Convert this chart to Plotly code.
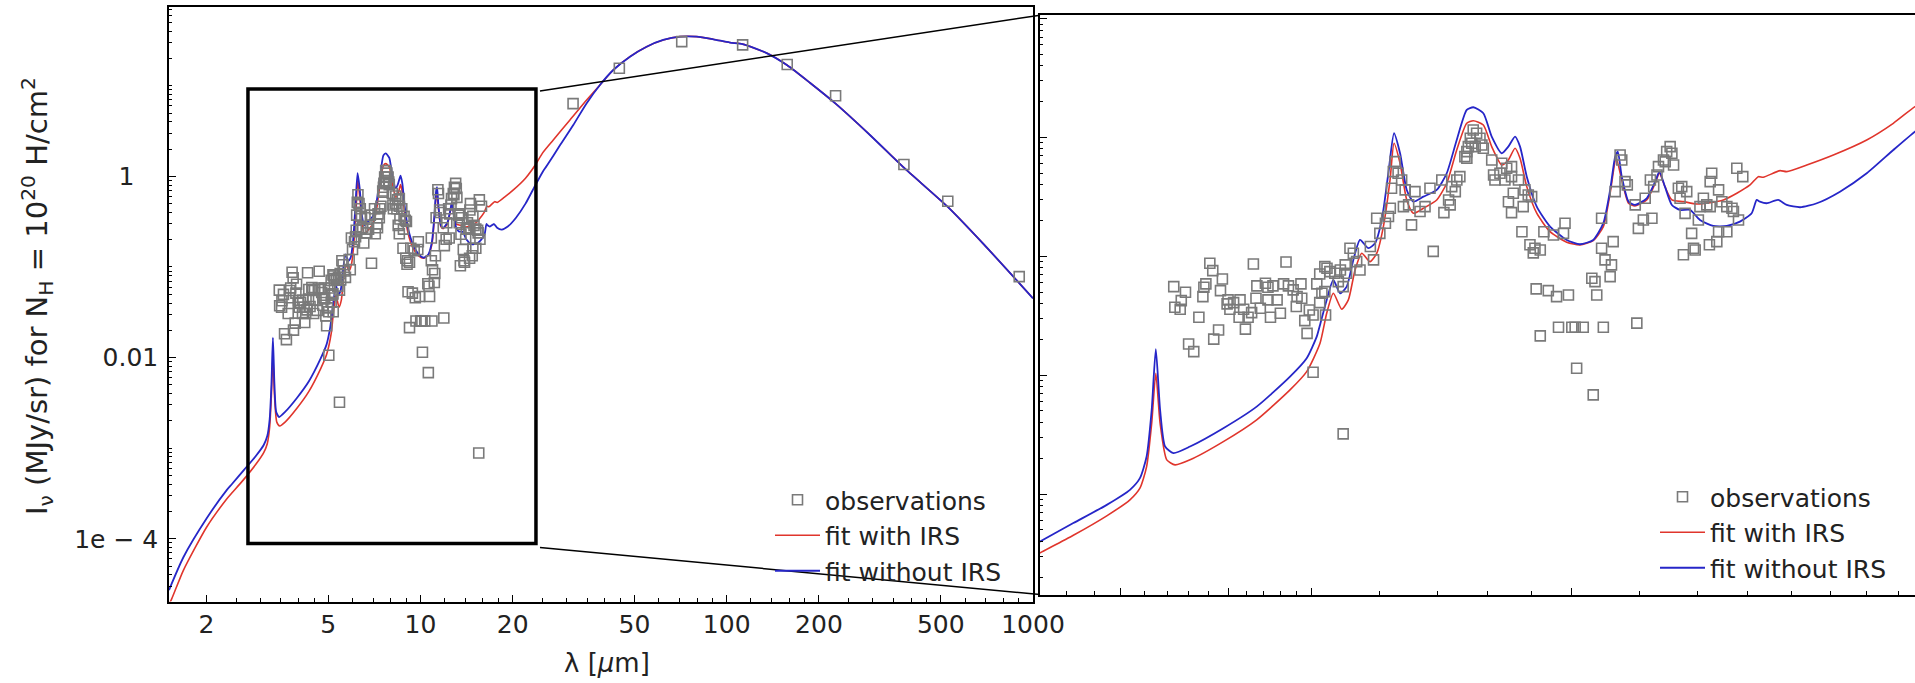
import numpy as np
import plotly.graph_objects as go

# ---------------- data ----------------
# observations, wavelength [um] and intensity
obs_x = [3.81, 3.84, 4.28, 4.67, 3.94, 3.46, 3.57, 3.75, 3.77, 3.74, 3.53, 3.47, 3.52, 3.70, 3.92,
         4.00, 4.06, 3.99, 4.13, 4.02, 4.12, 4.17, 4.22, 4.26, 4.32, 4.42, 4.45, 4.51, 4.64, 4.70,
         4.76, 4.86, 4.81, 4.87, 4.31, 4.36, 4.45, 4.48, 4.56, 4.60, 4.80, 4.97, 5.02, 4.91, 4.94,
         3.90, 3.85, 4.19, 3.60, 3.65, 5.07, 5.11, 5.21, 5.02, 5.14, 5.11, 5.19, 5.44, 5.18, 5.25,
         5.32, 5.40, 5.47, 5.18, 5.37, 5.44, 5.49, 5.54, 5.59, 5.64, 5.69, 5.85, 5.90, 5.95, 6.00,
         6.09, 6.14, 6.17, 6.19, 6.22, 6.25, 6.30, 6.36, 6.42, 6.39, 6.48, 6.53, 6.59, 6.68, 6.77,
         6.86, 6.92, 7.08, 7.12, 7.21, 7.24, 7.27, 7.34, 7.37, 7.43, 7.53, 7.60, 7.64, 7.70, 7.77,
         7.84, 7.67, 7.74, 7.88, 7.91, 7.57, 7.57, 8.09, 8.13, 8.16, 8.27, 8.31, 8.38, 8.42, 8.53,
         8.53, 8.57, 8.46, 8.53, 8.69, 8.80, 8.84, 8.92, 9.00, 8.77, 8.96, 9.08, 9.21, 9.04, 9.30,
         9.54, 9.80, 9.84, 9.11, 9.41, 9.62, 9.93, 9.21, 9.67, 10.02, 10.11, 10.33, 10.90, 10.15, 10.57,
         10.66, 10.71, 10.85, 10.85, 10.95, 11.19, 11.14, 11.10, 11.25, 10.61, 11.92, 11.40, 11.45, 11.55, 11.62,
         11.97, 12.13, 12.41, 11.87, 12.19, 12.36, 12.47, 12.58, 12.63, 12.80, 12.91, 13.03, 13.09, 13.15, 12.86,
         13.32, 13.44, 13.62, 13.56, 13.38, 13.80, 13.87, 13.93, 13.50, 14.11, 14.05, 14.24, 14.37, 14.50, 14.56,
         14.50, 14.83, 14.96, 15.16, 15.37, 15.43, 15.57, 15.82, 15.64, 14.83, 15.16, 14.76, 14.47, 15.5,
         31.5, 44.6, 71.3, 112.7, 157.6, 226.7, 378.9, 526.9, 901.6]
obs_y = [0.0875, 0.0758, 0.0863, 0.0897, 0.0645, 0.0556, 0.0499, 0.0550, 0.0586, 0.0458, 0.0424, 0.0373, 0.0359, 0.0307, 0.0515,
         0.0430, 0.0408, 0.0398, 0.0430, 0.0359, 0.0307, 0.0359, 0.0307, 0.0336, 0.0564, 0.0594, 0.0550, 0.0564, 0.0586, 0.0564,
         0.0522, 0.0586, 0.0458, 0.0444, 0.0444, 0.0366, 0.0430, 0.0307, 0.0430, 0.0332, 0.0378, 0.0354, 0.0321, 0.0288, 0.0225,
         0.0240, 0.0201, 0.0244, 0.0183, 0.0158, 0.0586, 0.0711, 0.0794, 0.0106, 0.0489, 0.0408, 0.0321, 0.00321, 0.0819, 0.0743,
         0.0721, 0.0768, 0.0847, 0.0505, 0.0613, 0.0556, 0.0721, 0.117, 0.106, 0.0902, 0.0768, 0.121, 0.0933, 0.209, 0.156,
         0.190, 0.216, 0.254, 0.374, 0.516, 0.626, 0.500, 0.439, 0.362, 0.262, 0.271, 0.184, 0.350, 0.238, 0.262,
         0.374, 0.110, 0.439, 0.233, 0.298, 0.271, 0.386, 0.350, 0.439, 0.468, 0.690, 0.837, 0.985, 1.156, 1.085,
         0.985, 0.894, 0.837, 0.865, 0.811, 0.760, 0.668, 0.647, 0.484, 0.439, 0.500, 0.607, 0.439, 0.551, 0.468,
         0.568, 0.339, 0.288, 0.233, 0.439, 0.262, 0.362, 0.328, 0.318, 0.161, 0.125, 0.117, 0.113, 0.107, 0.161,
         0.151, 0.156, 0.190, 0.0532, 0.0515, 0.0458, 0.0473, 0.0214, 0.0253, 0.0253, 0.0253, 0.0253, 0.0253, 0.01145, 0.0654,
         0.0613, 0.0473, 0.209, 0.117, 0.0933, 0.133, 0.0847, 0.0675, 0.350, 0.00683, 0.0274, 0.713, 0.647, 0.425, 0.399,
         0.172, 0.202, 0.209, 0.271, 0.308, 0.439, 0.386, 0.484, 0.568, 0.647, 0.760, 0.837, 0.736, 0.587, 0.626,
         0.374, 0.386, 0.350, 0.230, 0.308, 0.156, 0.117, 0.113, 0.103, 0.262, 0.202, 0.308, 0.271, 0.262, 0.500,
         0.425, 0.362, 0.288, 0.262, 0.254, 0.238, 0.551, 0.468, 0.202, 0.161, 0.161, 0.133, 0.125, 0.000885,
         6.35, 15.6, 30.7, 28.3, 17.2, 7.76, 1.35, 0.532, 0.0783]

# fit with IRS (red)
irs_x = [1.51, 1.541, 1.681, 2.005, 2.33, 2.421, 2.646, 2.893, 3.078, 3.161, 3.218, 3.262, 3.298, 3.336, 3.396,
         3.472, 3.614, 3.950, 4.318, 4.720, 4.935, 5.114, 5.206, 5.299, 5.420, 5.516, 5.616, 5.717, 5.846, 5.951,
         6.057, 6.166, 6.232, 6.333, 6.447, 6.562, 6.740, 6.985, 7.174, 7.368, 7.568, 7.702, 7.911, 8.090, 8.309,
         8.457, 8.610, 8.726, 8.884, 9.124, 9.454, 9.884, 10.24, 10.61, 10.90, 11.10, 11.28, 11.45, 11.66, 11.86,
         12.24, 12.52, 12.66, 12.85, 13.09, 13.50, 13.99, 14.50, 15.02, 15.57, 16.13, 16.49, 16.71, 17.47, 17.79,
         18.77, 20.15, 22.03, 23.65, 25.06, 27.14, 30.77, 34.88, 38.55, 42.61, 48.31, 54.76, 62.03, 70.34, 79.74,
         90.33, 102.4, 112.7, 135.0, 157.6, 186.9, 226.7, 293.5, 378.9, 526.9, 688.6, 901.6, 1000.0]
irs_y = [1.9e-5, 2.17e-5, 4.46e-5, 1.35e-4, 2.75e-4, 3.2e-4, 4.5e-4, 6.56e-4, 8.94e-4, 1.121e-3, 1.703e-3, 3.95e-3, 0.01039, 3.95e-3, 1.94e-3,
         1.76e-3, 1.94e-3, 2.76e-3, 4.21e-3, 7.52e-3, 0.01072, 0.01858, 0.0332, 0.0489, 0.0359, 0.043, 0.0768, 0.1062, 0.0902, 0.1062,
         0.1778, 0.439, 0.894, 0.607, 0.298, 0.2304, 0.2538, 0.298, 0.412, 0.785, 1.316, 1.384, 1.274, 0.837, 0.587,
         0.647, 0.811, 0.668, 0.3857, 0.2304, 0.1613, 0.1314, 0.1247, 0.1355, 0.1778, 0.3394, 0.668, 0.439, 0.2796, 0.2653,
         0.298, 0.412, 0.5, 0.3857, 0.298, 0.2884, 0.2759, 0.2829, 0.298, 0.3394, 0.3986, 0.468, 0.4626, 0.5258, 0.5158,
         0.587, 0.7125, 0.953, 1.316, 1.816, 2.52, 4.19, 6.97, 10.2, 14.94, 20.95, 27.0, 32.03, 34.83, 34.83,
         32.6, 30.0, 28.8, 22.96, 16.84, 10.8, 6.35, 2.864, 1.247, 0.4606, 0.18, 0.0664, 0.0451]

# fit without IRS (blue)
noirs_x = [1.51, 1.681, 2.005, 2.33, 2.421, 2.646, 2.893, 3.078, 3.161, 3.218, 3.262, 3.298, 3.336, 3.381, 3.457,
           3.614, 3.950, 4.318, 4.720, 4.935, 5.069, 5.114, 5.206, 5.299, 5.395, 5.492, 5.590, 5.691, 5.819, 5.924,
           6.031, 6.138, 6.232, 6.333, 6.447, 6.562, 6.740, 6.985, 7.174, 7.368, 7.568, 7.702, 7.911, 8.090, 8.309,
           8.457, 8.610, 8.726, 8.884, 9.124, 9.454, 9.884, 10.24, 10.61, 10.90, 11.10, 11.25, 11.33, 11.45, 11.66,
           11.86, 12.24, 12.52, 12.66, 12.85, 13.09, 13.38, 13.74, 14.11, 14.62, 15.16, 15.70, 16.20, 16.42, 16.56,
           16.86, 17.39, 17.79, 18.44, 19.28, 20.51, 22.03, 23.65, 25.06, 25.82, 28.54, 31.55, 34.89, 38.55, 42.61,
           48.31, 54.76, 62.03, 70.34, 79.74, 90.33, 102.4, 112.7, 135.0, 157.6, 186.9, 226.7, 293.5, 378.9, 526.9,
           688.6, 901.6, 1000.0]
noirs_y = [2.72e-5, 6.22e-5, 1.684e-4, 3.45e-4, 4.0e-4, 5.7e-4, 8.11e-4, 1.085e-3, 1.36e-3, 2.07e-3, 5.11e-3, 0.01655, 5.11e-3, 2.51e-3, 2.21e-3,
           2.51e-3, 3.58e-3, 5.44e-3, 9.73e-3, 0.0139, 0.0211, 0.0265, 0.043, 0.0633, 0.0489, 0.0556, 0.0933, 0.1374, 0.117, 0.1289,
           0.2024, 0.5, 1.085, 0.736, 0.3618, 0.2884, 0.3177, 0.3618, 0.5, 0.953, 1.703, 1.795, 1.598, 1.016, 0.736,
           0.837, 1.016, 0.837, 0.468, 0.2618, 0.1778, 0.1374, 0.1264, 0.1374, 0.19, 0.3618, 0.6895, 0.7596, 0.468, 0.2884,
           0.2705, 0.308, 0.4249, 0.5158, 0.3857, 0.2705, 0.2456, 0.2456, 0.2024, 0.1802, 0.1802, 0.1958, 0.2304, 0.298, 0.2884,
           0.2796, 0.298, 0.2705, 0.2588, 0.2796, 0.35, 0.5, 0.785, 1.12, 1.3, 2.2, 3.69, 6.41, 10.2, 14.94,
           20.95, 27.0, 32.03, 34.83, 34.83, 32.6, 30.0, 28.8, 22.96, 16.84, 10.8, 6.35, 2.864, 1.247, 0.4606,
           0.18, 0.0664, 0.0451]

# zoom window drawn on the main panel (data units)
box_x = [2.734, 23.83]
box_y = [8.87e-5, 9.22]

# axis ticks
NB = "\u00a0"
left_xticks = [2, 5, 10, 20, 50, 100, 200, 500, 1000]
left_xticklabels = ["2", "5", "10", "20", "50", "100", "200", "500", "1000"]
left_xminor = [2.5, 3, 3.5, 4, 4.5, 6, 7, 8, 9, 12, 14, 16, 18, 25, 30, 35, 40, 45, 60, 70, 80, 90,
               120, 140, 160, 180, 250, 300, 350, 400, 450, 600, 700, 800, 900]
left_yticks = [1e-4, 1e-2, 1]
left_yticklabels = ["1e − 4", "0.01", "1" + NB * 3]
right_xticks = [3, 4, 5, 10, 20]
right_xminor = [2.6, 2.8, 3.2, 3.4, 3.6, 3.8, 4.2, 4.4, 4.6, 4.8, 6, 7, 8, 9, 12, 14, 16, 18, 22, 24]
right_yticks = [1e-3, 1e-2, 1e-1, 1, 10]
decades = [1e-5, 1e-4, 1e-3, 1e-2, 1e-1, 1, 10]
y_minor = [m * d for d in decades for m in range(2, 10)]
left_yminor = y_minor + [1e-5, 1e-3, 1e-1, 10]

x_title = "λ [<i>μ</i>m]"
y_title = "I<sub>ν</sub> (MJy/sr) for N<sub>H</sub> = 10<sup>20</sup> H/cm<sup>2</sup>"

# ---------------- layout geometry ----------------
W, H = 1915, 683
L_dx = [169 / W, 1033 / W]
L_dy = [1 - 601.5 / H, 1 - 7.4 / H]
R_dx = [1040 / W, 1.0]
R_dy = [1 - 594.5 / H, 1 - 15.2 / H]
L_xr = [np.log10(1.51), 3.0]
L_yr = [-4.692, 1.865]
R_xr = [0.3839, 1.399]
R_yr = [-3.845, 1.0286]

RED = "#e0352c"
BLUE = "#2626c8"
GREY = "#7a7a7a"
FONT = "DejaVu Sans"
TXT = "#222222"

fig = go.Figure()

for xa, ya, leg in [("x", "y", "legend"), ("x2", "y2", "legend2")]:
    fig.add_trace(go.Scatter(x=irs_x, y=irs_y, mode="lines", name="fit with IRS",
                             line=dict(color=RED, width=1.6, shape="spline", smoothing=0.6),
                             xaxis=xa, yaxis=ya, legend=leg, legendrank=2))
    fig.add_trace(go.Scatter(x=noirs_x, y=noirs_y, mode="lines", name="fit without IRS",
                             line=dict(color=BLUE, width=1.8, shape="spline", smoothing=0.6),
                             xaxis=xa, yaxis=ya, legend=leg, legendrank=3))
    fig.add_trace(go.Scatter(x=obs_x, y=obs_y, mode="markers", name="observations",
                             marker=dict(symbol="square-open", size=10, color=GREY, line=dict(width=1.6)),
                             xaxis=xa, yaxis=ya, legend=leg, legendrank=1))

axis_common = dict(type="log", showline=True, linecolor="black", linewidth=1.5, ticks="inside",
                   tickcolor="black", tickwidth=1.2, showgrid=False, zeroline=False, automargin=False)
minor_common = dict(ticks="inside", ticklen=3.5, tickcolor="black", tickwidth=1, showgrid=False)
tickfont = dict(family=FONT, size=25, color=TXT)
legfont = dict(family=FONT, size=25, color=TXT)

fig.update_layout(
    width=W, height=H, margin=dict(l=0, r=0, t=0, b=0),
    paper_bgcolor="white", plot_bgcolor="white",
    xaxis=dict(axis_common, domain=L_dx, range=L_xr, anchor="y", mirror=True,
               tickmode="array", tickvals=left_xticks, ticktext=left_xticklabels, ticklen=7,
               tickfont=tickfont, minor=dict(minor_common, tickvals=left_xminor)),
    yaxis=dict(axis_common, domain=L_dy, range=L_yr, anchor="x", mirror=True,
               tickmode="array", tickvals=left_yticks, ticktext=left_yticklabels, ticklen=7,
               tickfont=tickfont, minor=dict(minor_common, tickvals=left_yminor), ticklabelstandoff=4),
    xaxis2=dict(axis_common, domain=R_dx, range=R_xr, anchor="y2", mirror=True,
                tickmode="array", tickvals=right_xticks, ticklen=7, showticklabels=False,
                minor=dict(minor_common, tickvals=right_xminor)),
    yaxis2=dict(axis_common, domain=R_dy, range=R_yr, anchor="x2", mirror=False,
                tickmode="array", tickvals=right_yticks, ticklen=7, showticklabels=False,
                minor=dict(minor_common, tickvals=y_minor)),
    legend=dict(x=770 / W, y=1 - 477 / H, xanchor="left", yanchor="top", bgcolor="rgba(0,0,0,0)",
                font=legfont, itemwidth=45, tracegroupgap=0),
    legend2=dict(x=1655 / W, y=1 - 474 / H, xanchor="left", yanchor="top", bgcolor="white",
                 font=legfont, itemwidth=45, tracegroupgap=0),
    showlegend=True,
    annotations=[
        dict(text=y_title, xref="paper", yref="paper", x=37 / W, y=1 - 296 / H, textangle=-90,
             xanchor="center", yanchor="middle", showarrow=False, font=dict(family=FONT, size=29, color=TXT)),
        dict(text=x_title, xref="paper", yref="paper", x=607 / W, y=1 - 663 / H,
             xanchor="center", yanchor="middle", showarrow=False, font=dict(family=FONT, size=26, color=TXT)),
    ],
)


def left_paper(xv, yv):
    px = L_dx[0] + (np.log10(xv) - L_xr[0]) / (L_xr[1] - L_xr[0]) * (L_dx[1] - L_dx[0])
    py = L_dy[0] + (np.log10(yv) - L_yr[0]) / (L_yr[1] - L_yr[0]) * (L_dy[1] - L_dy[0])
    return px, py


shapes = [dict(type="rect", xref="x", yref="y", x0=box_x[0], x1=box_x[1], y0=box_y[0], y1=box_y[1],
               line=dict(color="black", width=3.5), layer="above")]
tx, ty = left_paper(box_x[1], box_y[1])
bx, by = left_paper(box_x[1], box_y[0])
shapes.append(dict(type="line", xref="paper", yref="paper", x0=tx + 4 / W, y0=ty - 2 / H, x1=R_dx[0], y1=R_dy[1],
                   line=dict(color="black", width=1.5), layer="above"))
shapes.append(dict(type="line", xref="paper", yref="paper", x0=bx + 4 / W, y0=by - 4 / H, x1=R_dx[0], y1=R_dy[0],
                   line=dict(color="black", width=1.5), layer="above"))
fig.update_layout(shapes=shapes)

fig.write_html("out.html", config={"displayModeBar": False})
